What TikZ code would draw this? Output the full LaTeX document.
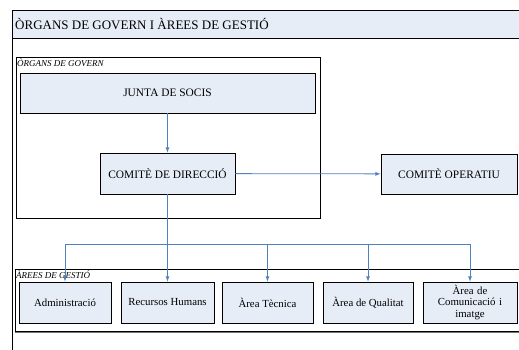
\documentclass[tikz,border=0pt]{standalone}
\usepackage{fontspec}
\setmainfont{Liberation Serif}
\usetikzlibrary{shadows}
\definecolor{boxfill}{RGB}{231,237,247}
\definecolor{linkblue}{RGB}{79,129,189}
\tikzset{
  unit/.style={draw=black, fill=boxfill, line width=0.8pt, font=\fontsize{10.8}{12}\selectfont,
    align=center, inner sep=0pt,
    drop shadow={shadow xshift=1pt, shadow yshift=-1pt, fill=black!70, opacity=1}},
  link/.style={draw=linkblue, line width=0.8pt},
  tag/.style={font=\fontsize{9}{9}\selectfont\itshape, anchor=north west, inner sep=0pt}
}
\begin{document}
\begin{tikzpicture}[>=latex, x=1pt, y=-1pt]
\useasboundingbox (0,0) rectangle (519,350);
% title band
\fill[boxfill] (12,10) rectangle (519,38);
\draw[line width=0.8pt] (519,10)--(12,10)--(12,350);
\draw[line width=0.6pt] (12,38)--(519,38);
\node[anchor=west, font=\fontsize{13}{14}\selectfont, inner sep=0pt] (title) at (15,24) {ÒRGANS DE GOVERN I ÀREES DE GESTIÓ};

% govern
\draw[line width=0.8pt] (16,57) rectangle (320,218);
\node[tag] (govtag) at (17,58.5) {ÒRGANS DE GOVERN};
\node[unit, minimum width=295pt, minimum height=40pt, font=\fontsize{11.4}{12}\selectfont] (junta) at (167.5,93) {JUNTA DE SOCIS};
\node[unit, minimum width=135pt, minimum height=41pt, font=\fontsize{11.4}{12}\selectfont] (dir) at (167.5,173.5) {COMITÈ DE DIRECCIÓ};
\node[unit, minimum width=136pt, minimum height=40pt, font=\fontsize{11.4}{12}\selectfont] (oper) at (449,174) {COMITÈ OPERATIU};

% arees
\draw[line width=0.8pt] (519,269)--(15,269)--(15,331)--(519,331);
\draw[black!55, line width=1.4pt] (15,332.5)--(519,332.5);
\node[tag] (areatag) at (16,270.5) {ÀREES DE GESTIÓ};
\node[unit, minimum width=92pt, minimum height=41pt] (admin) at (65,302.5) {Administració};
\node[unit, minimum width=93pt, minimum height=41pt] (rrhh) at (167.5,302.5) {Recursos Humans};
\node[unit, minimum width=91pt, minimum height=41pt] (tec) at (267.5,302.5) {Àrea Tècnica};
\node[unit, minimum width=90pt, minimum height=41pt] (qual) at (368,302.5) {Àrea de Qualitat};
\node[unit, minimum width=94pt, minimum height=41pt, text width=90pt, font=\fontsize{10.8}{11.5}\selectfont] (com) at (470,302.5) {Àrea de\\Comunicació i\\imatge};

% connectors
\coordinate (bus) at (167.5,244);
\draw[link,->] (junta) -- (dir);
\draw[link,->] (dir) -- (oper);
\draw[link] (dir) -- (bus);
\foreach \n in {admin,rrhh,tec,qual,com}
  \draw[link,->] (bus) -| (\n.north);
\end{tikzpicture}
\end{document}
